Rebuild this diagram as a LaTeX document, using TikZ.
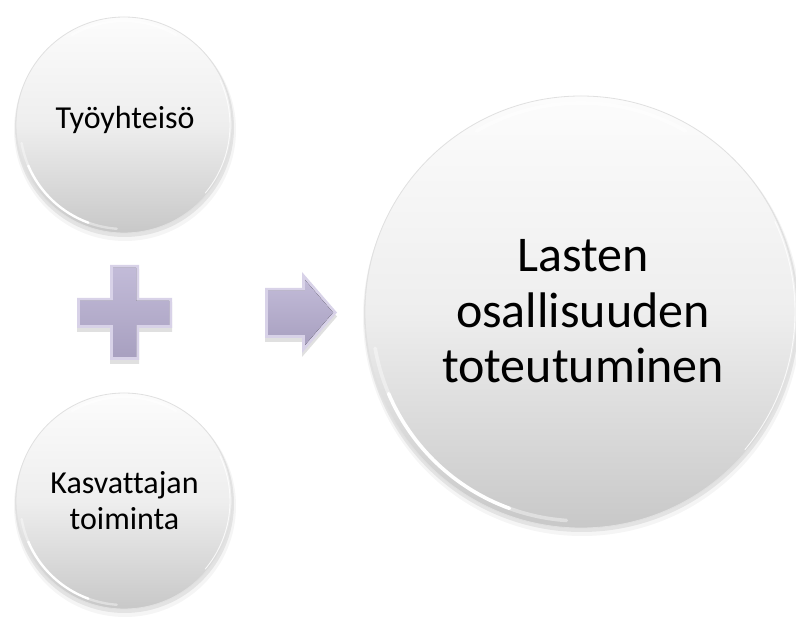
\documentclass[tikz,border=0pt]{standalone}
\usepackage{fontspec}
\setmainfont{Carlito}[Ligatures=CommonOff]
\definecolor{bubtop}{RGB}{252,252,252}
\definecolor{bubmid}{RGB}{238,238,238}
\definecolor{bubbot}{RGB}{200,200,200}
\definecolor{bubrim}{RGB}{224,224,224}
\definecolor{lavtop}{RGB}{194,187,216}
\definecolor{lavbot}{RGB}{168,160,192}
\definecolor{lavedge}{RGB}{216,210,232}
\tikzset{
  bubble/.style={circle, inner sep=0pt, draw=bubrim, line width=0.8pt,
    top color=bubtop, bottom color=bubbot, middle color=bubmid},
  bshadow/.style={fill=black, draw=none},
  shine/.style={white, line cap=round},
  smalltxt/.style={font=\fontsize{32}{36.6}\selectfont, align=center, text=black, inner sep=0pt},
  bigtxt/.style={font=\fontsize{50}{55.7}\selectfont, align=center, text=black, inner sep=0pt},
  lavface/.style={top color=lavtop, bottom color=lavbot, draw=none},
  laverim/.style={fill=lavedge, draw=none},
  lavshadow/.style={fill=black, opacity=0.12, draw=none}
}
\begin{document}
\begin{tikzpicture}[x=1pt,y=1pt]
\useasboundingbox (0,0) rectangle (796,619);
\fill[white] (0,0) rectangle (796,619);
% shadows of circles
\foreach \cx/\cy/\r in {124/494/108, 124/118/108, 581/307/216}{
  \fill[bshadow, opacity=0.04] (\cx+1,\cy-5) circle (\r+3);
  \fill[bshadow, opacity=0.07] (\cx+0.5,\cy-2.5) circle (\r+1.5);
}
% circles
\node[bubble, minimum size=216pt] (top) at (124,494) {};
\node[bubble, minimum size=216pt] (bot) at (124,118) {};
\node[bubble, minimum size=432pt] (big) at (581,307) {};
% highlights
\foreach \cx/\cy/\r/\d/\w in {124/494/108/4/2.4, 124/118/108/4/2.4, 581/307/216/7/3.6}{
  \draw[shine, line width=\w pt, opacity=0.4] (\cx,\cy) ++(190:\r-\d) arc (190:203:\r-\d);
  \draw[shine, line width=\w pt, opacity=1] (\cx,\cy) ++(203:\r-\d) arc (203:250:\r-\d);
  \draw[shine, line width=\w pt, opacity=0.4] (\cx,\cy) ++(250:\r-\d) arc (250:266:\r-\d);
  \draw[shine, line width=0.9pt, opacity=0.8] (\cx,\cy) ++(-40:\r-2) arc (-40:25:\r-2);
  \draw[shine, line width=\w pt, opacity=0.5] (\cx,\cy) ++(60:\r-\d) arc (60:120:\r-\d);
}
% texts
\node[smalltxt, anchor=base] (t1) at (125,490.7) {Työyhteisö};
\node[smalltxt] (t2) at (124.5,118.5) {Kasvattajan\\toiminta};
\node[bigtxt] (t3) at (583,307.7) {Lasten\\osallisuuden\\toteutuminen};
% plus sign
\fill[lavshadow] (110,255) -- (139,255) -- (139,287) -- (172,287) -- (172,317) -- (139,317) -- (139,350) -- (110,350) -- (110,317) -- (77,317) -- (77,287) -- (110,287) -- cycle;
\fill[laverim] (110,259) -- (139,259) -- (139,291) -- (172,291) -- (172,321) -- (139,321) -- (139,354) -- (110,354) -- (110,321) -- (77,321) -- (77,291) -- (110,291) -- cycle;
\fill[lavface] (113,262) -- (136,262) -- (136,294) -- (169,294) -- (169,318) -- (136,318) -- (136,351) -- (113,351) -- (113,318) -- (80,318) -- (80,294) -- (113,294) -- cycle;
% arrow
\fill[lavshadow] (265,277) -- (302,277) -- (302,262) -- (337,302.5) -- (302,343) -- (302,327) -- (265,327) -- cycle;
\fill[laverim] (265,281) -- (302,281) -- (302,266) -- (337,306.5) -- (302,347) -- (302,331) -- (265,331) -- cycle;
\fill[lavface] (268,284) -- (305,284) -- (305,274) -- (333,306.5) -- (305,339) -- (305,328) -- (268,328) -- cycle;
\end{tikzpicture}
\end{document}
